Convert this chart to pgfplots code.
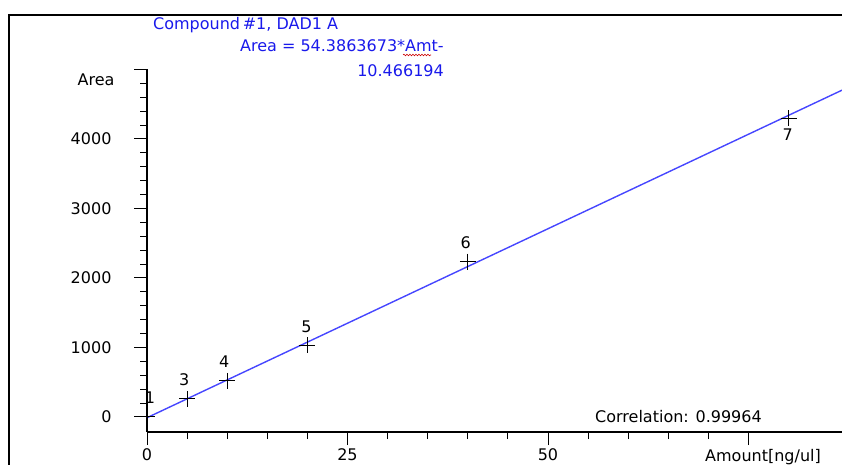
\documentclass[border=0pt]{standalone}
\usepackage{fontspec}
\setmainfont{DejaVu Sans}
\usepackage{pgfplots}
\pgfplotsset{compat=1.18}
\usetikzlibrary{decorations.pathmorphing}
\definecolor{lineblue}{RGB}{70,70,255}
\definecolor{txtblue}{RGB}{25,25,235}
\begin{document}
\begin{tikzpicture}[x=1pt,y=1pt]
\useasboundingbox (0,0) rectangle (842,464);
\draw[line width=1.4pt] (9,-20) -- (9,449) -- (900,449);
\begin{axis}[
  at={(147pt,32pt)}, anchor=south west,
  scale only axis, width=721.8pt, height=362.5pt,
  xmin=0, xmax=90, ymin=-216, ymax=5000,
  axis lines=left, axis line style={-, line width=1.2pt},
  tick align=outside, major tick length=13pt, minor tick length=7pt,
  xtick={0,25,50,75}, xticklabels={0,25,50,{}},
  ytick={0,1000,2000,3000,4000,5000}, yticklabels={0,1000,2000,3000,4000,{}},
  minor x tick num=4, minor y tick num=4,
  tick style={black, line width=1pt},
  ticklabel style={font=\fontsize{16}{19}\selectfont},
  yticklabel style={xshift=-19pt},
  /pgf/number format/assume math mode=true,
  clip=false,
]
\addplot[lineblue, line width=1.4pt] coordinates {(0,-10.47) (90,4884.3)};
\addplot[only marks, mark=+, mark size=8pt, black, mark options={line width=1pt}] coordinates {
(0,0) (5,262) (10,520) (20,1030) (40,2235) (80,4300)};
\begin{scope}[every node/.style={font=\fontsize{16}{19}\selectfont}]
\node at (axis cs:0,0) [xshift=3pt, yshift=19pt] {1};
\node at (axis cs:5,262) [xshift=-3pt, yshift=19pt] {3};
\node at (axis cs:10,520) [xshift=-3pt, yshift=19pt] {4};
\node at (axis cs:20,1030) [xshift=-1pt, yshift=19pt] {5};
\node at (axis cs:40,2235) [xshift=-2pt, yshift=19pt] {6};
\node at (axis cs:80,4300) [xshift=-1pt, yshift=-17pt] {7};
\end{scope}
\end{axis}
\begin{scope}[every node/.style={font=\fontsize{16}{19}\selectfont, inner sep=0pt}]
\node[txtblue, anchor=west] at (153,439) {Compound\,\#1, DAD1 A};
\node[txtblue, anchor=east] (eq) at (444,418) {Area = 54.3863673*Amt-};
\node[txtblue, anchor=east] at (444,393) {10.466194};
\node at (96,384) {Area};
\node[anchor=west] at (595,47) {Correlation: 0.99964};
\node[anchor=west] at (705,7) {Amount[ng/ul]};
\end{scope}
\draw[red!80!black, line width=0.6pt, decorate, decoration={snake, amplitude=0.8pt, segment length=3pt}] (403,409) -- (431,409);
\end{tikzpicture}
\end{document}
